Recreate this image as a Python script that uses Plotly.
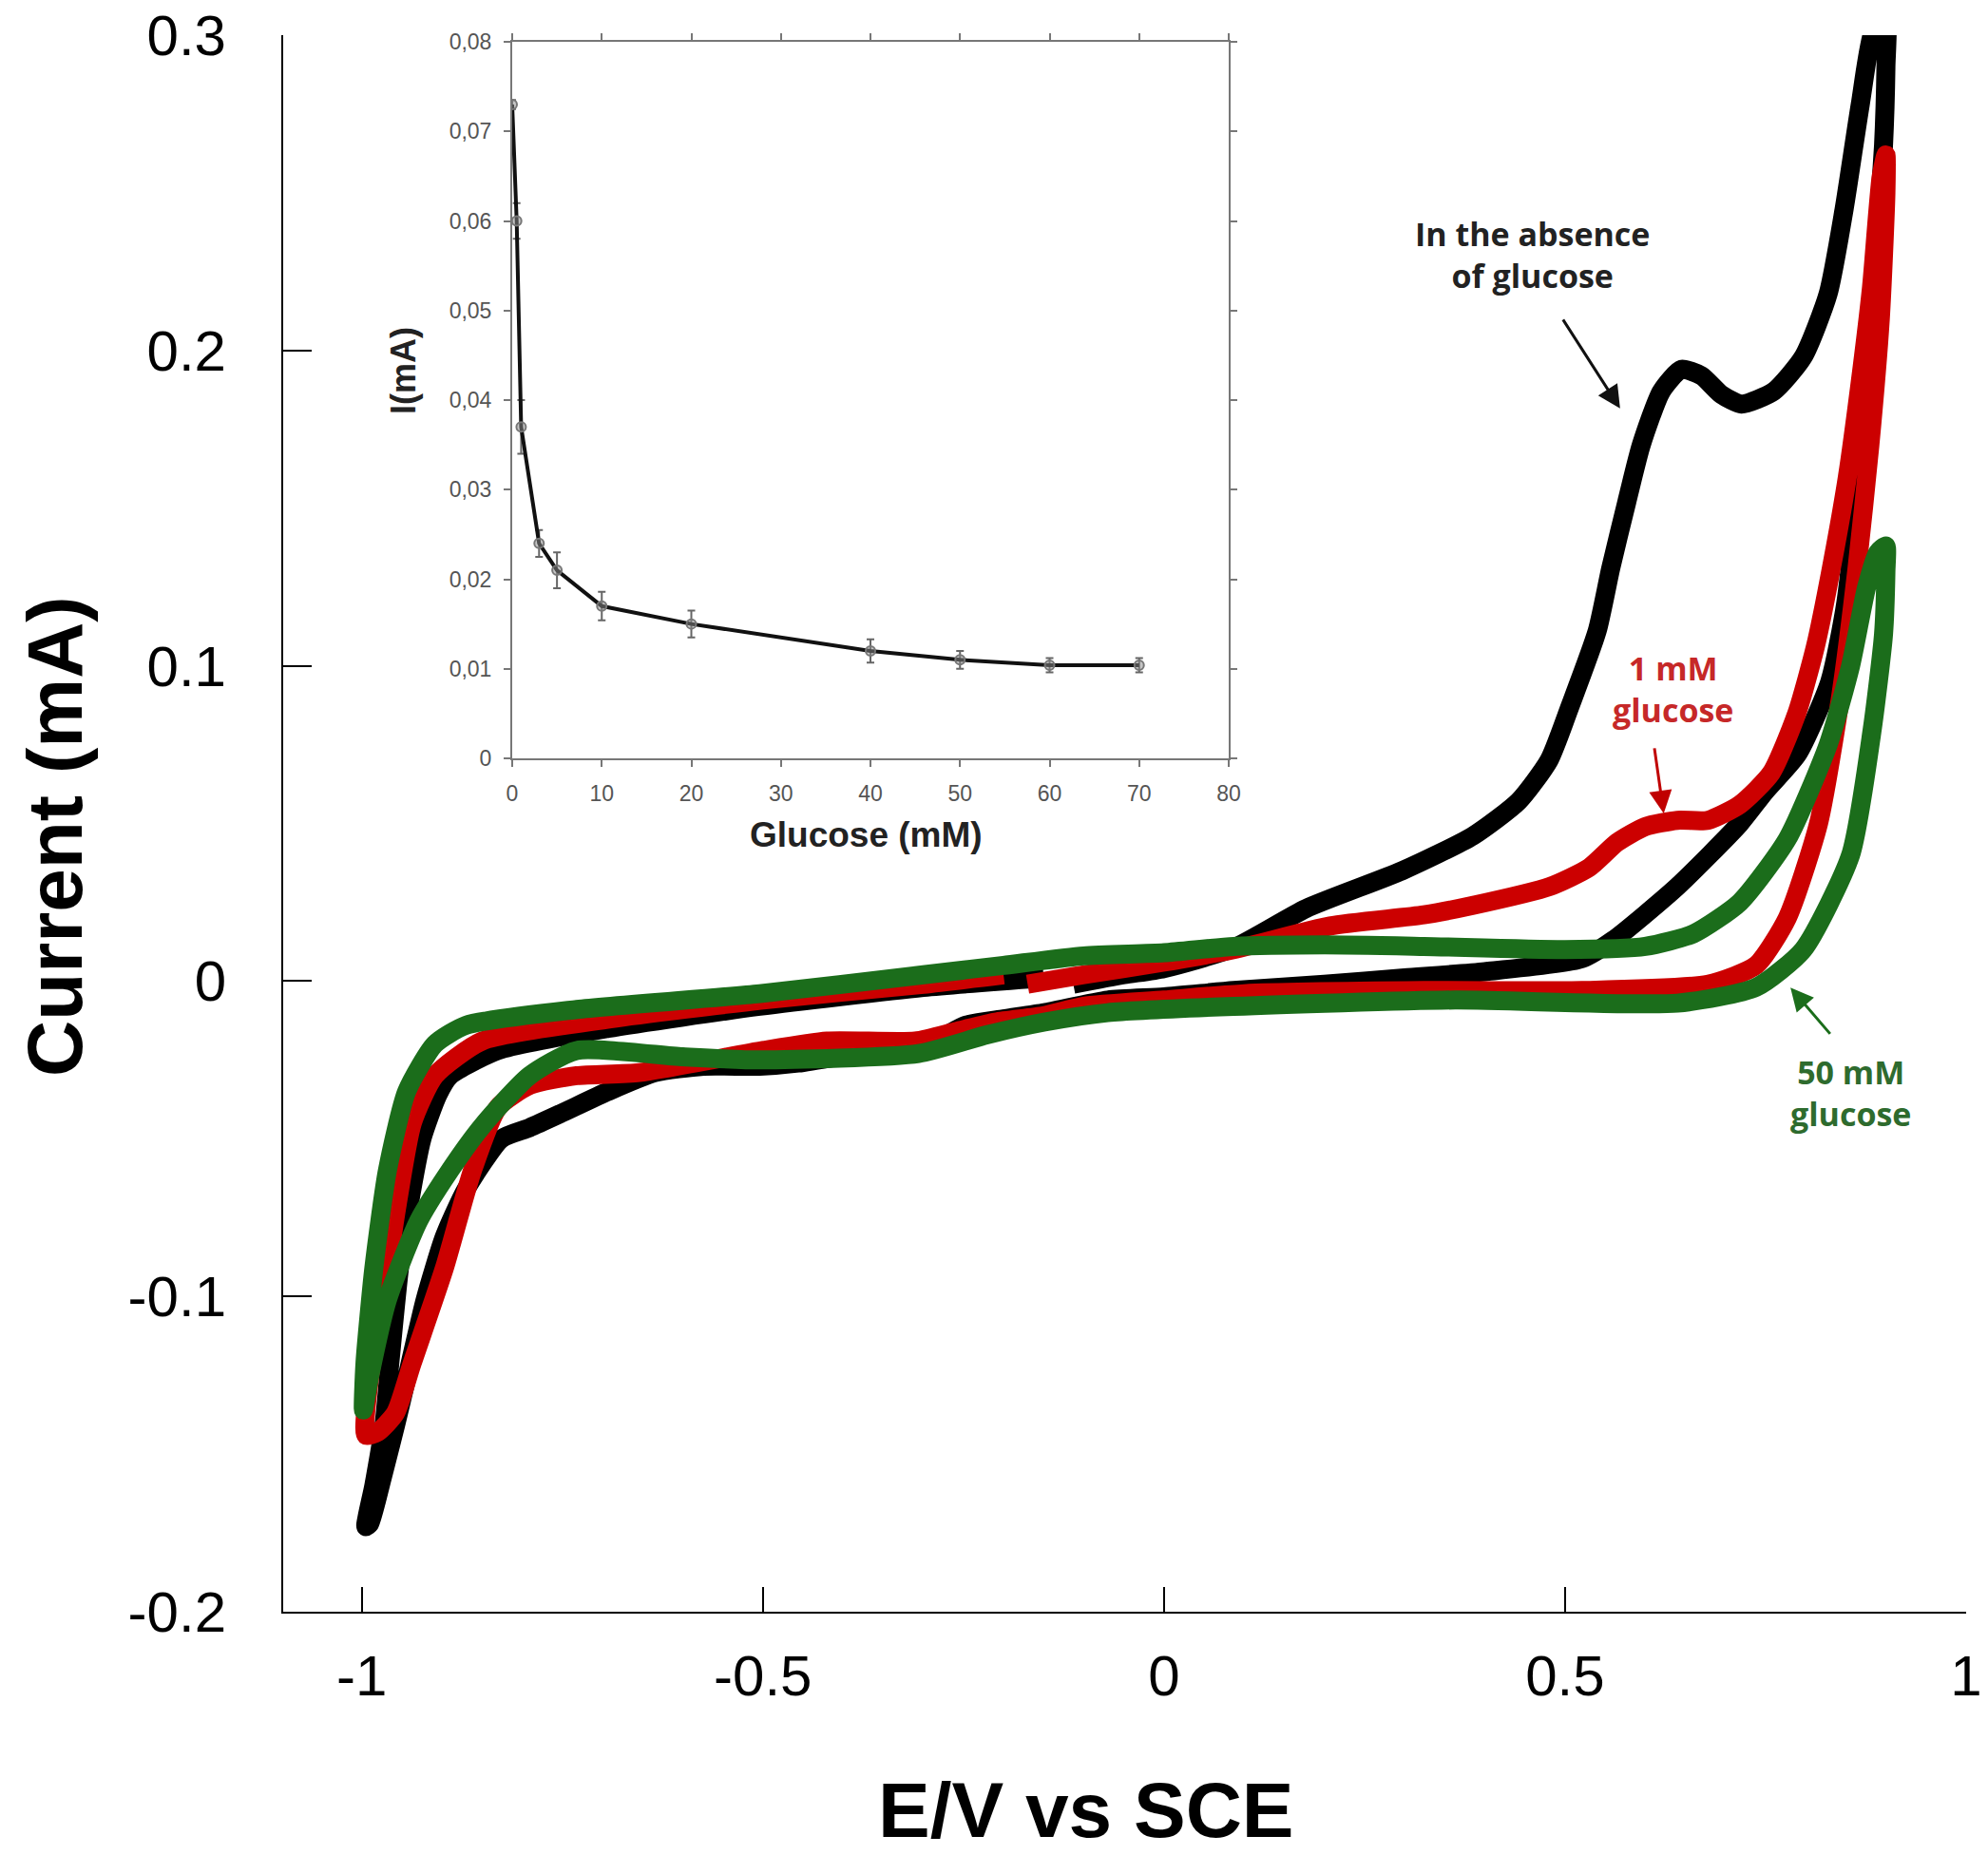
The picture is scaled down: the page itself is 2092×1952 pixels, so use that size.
import plotly.graph_objects as go

# cyclic voltammograms (E / V vs SCE, I / mA)
black_v = [-0.113, -0.05, 0.0, 0.087, 0.177, 0.297, 0.385, 0.442, 0.48, 0.506, 0.54, 0.557, 0.577, 0.595,
           0.62, 0.645, 0.67, 0.695, 0.72, 0.76, 0.797, 0.828, 0.848, 0.868, 0.885, 0.9,
           0.9, 0.897, 0.885, 0.87, 0.85, 0.83, 0.79, 0.749, 0.718, 0.64, 0.56, 0.52, 0.4, 0.3, 0.2, 0.087,
           0.0, -0.07, -0.149, -0.2, -0.247, -0.287, -0.385, -0.456, -0.504, -0.574, -0.634, -0.693, -0.752,
           -0.791, -0.826, -0.87, -0.897, -0.921, -0.944, -0.958, -0.975, -0.99,
           -0.995, -0.985, -0.972, -0.965, -0.953, -0.941, -0.925, -0.905, -0.89, -0.83, -0.693, -0.504, -0.3, -0.15]
black_i = [-0.001, 0.002, 0.004, 0.0105, 0.023, 0.035, 0.046, 0.057, 0.07, 0.087, 0.111, 0.131, 0.152, 0.17,
           0.187, 0.194, 0.192, 0.186, 0.183, 0.187, 0.198, 0.218, 0.245, 0.278, 0.302, 0.305,
           0.29, 0.265, 0.22, 0.17, 0.12, 0.095, 0.072, 0.060, 0.050, 0.030, 0.013, 0.007, 0.003, 0.001, -0.001, -0.003,
           -0.005, -0.006, -0.010, -0.012, -0.014, -0.019, -0.023, -0.026, -0.027, -0.027, -0.029, -0.035, -0.042,
           -0.0465, -0.050, -0.066, -0.081, -0.101, -0.126, -0.141, -0.158, -0.172,
           -0.173, -0.16, -0.14, -0.121, -0.091, -0.071, -0.05, -0.036, -0.030, -0.022, -0.015, -0.008, -0.002, 0.001]

red_v = [-0.17, -0.1, 0.0, 0.087, 0.207, 0.324, 0.385, 0.481, 0.53, 0.565, 0.60, 0.64, 0.678, 0.718, 0.757,
         0.789, 0.812, 0.832, 0.852, 0.868, 0.882, 0.894, 0.9,
         0.9, 0.893, 0.88, 0.864, 0.844, 0.816, 0.777, 0.738, 0.678, 0.521, 0.324, 0.1, 0.0, -0.1, -0.15,
         -0.21, -0.26, -0.31, -0.42, -0.5, -0.654, -0.732, -0.79, -0.83, -0.862, -0.897, -0.937, -0.958, -0.98, -0.995,
         -0.99, -0.98, -0.968, -0.956, -0.937, -0.909, -0.85, -0.69, -0.5, -0.3, -0.2]
red_i = [-0.001, 0.002, 0.006, 0.010, 0.0175, 0.021, 0.024, 0.030, 0.036, 0.044, 0.049, 0.051, 0.051, 0.056, 0.066,
         0.085, 0.106, 0.131, 0.16, 0.19, 0.22, 0.255, 0.262,
         0.25, 0.21, 0.17, 0.131, 0.091, 0.050, 0.020, 0.005, -0.001, -0.003, -0.003, -0.004, -0.006, -0.008, -0.011,
         -0.013, -0.016, -0.019, -0.019, -0.022, -0.029, -0.030, -0.033, -0.040, -0.060, -0.091, -0.121, -0.137, -0.143, -0.144,
         -0.125, -0.111, -0.091, -0.071, -0.045, -0.030, -0.019, -0.012, -0.006, -0.001, 0.002]

green_v = [-0.2, -0.1, 0.0, 0.087, 0.2, 0.324, 0.5, 0.6, 0.66, 0.718, 0.777, 0.828, 0.856, 0.876, 0.89, 0.9,
           0.9, 0.897, 0.883, 0.856, 0.797, 0.738, 0.64, 0.363, 0.087, -0.07, -0.149, -0.22, -0.306, -0.504,
           -0.6, -0.732, -0.791, -0.85, -0.89, -0.929, -0.968, -0.99, -0.998,
           -0.996, -0.985, -0.968, -0.944, -0.909, -0.87, -0.732, -0.504, -0.3, -0.2]
green_i = [0.005, 0.008, 0.009, 0.011, 0.0115, 0.011, 0.010, 0.011, 0.015, 0.025, 0.045, 0.075, 0.10, 0.125, 0.136, 0.138,
           0.13, 0.11, 0.080, 0.040, 0.010, -0.002, -0.007, -0.006, -0.008, -0.010, -0.013, -0.017, -0.023, -0.025,
           -0.024, -0.022, -0.030, -0.046, -0.060, -0.076, -0.101, -0.125, -0.136,
           -0.121, -0.091, -0.060, -0.035, -0.020, -0.014, -0.009, -0.004, 0.002, 0.005]

# inset: peak current vs glucose concentration
glucose_mm = [0, 0.5, 1, 3, 5, 10, 20, 40, 50, 60, 70]
peak_ma = [0.073, 0.060, 0.037, 0.024, 0.021, 0.017, 0.015, 0.012, 0.011, 0.0104, 0.0104]
peak_err = [0.0005, 0.002, 0.003, 0.0015, 0.002, 0.0016, 0.0015, 0.0013, 0.001, 0.0008, 0.0008]

main_ticks = [-1, -0.5, 0, 0.5, 1]
main_ticktext = ["-1", "-0.5", "0", "0.5", "1"]
cur_ticks = [-0.2, -0.1, 0, 0.1, 0.2, 0.3]
cur_ticktext = ["-0.2", "-0.1", "0", "0.1", "0.2", "0.3"]
inset_xticks = [0, 10, 20, 30, 40, 50, 60, 70, 80]
inset_yticks = [0, 0.01, 0.02, 0.03, 0.04, 0.05, 0.06, 0.07, 0.08]
inset_yticktext = ["0", "0,01", "0,02", "0,03", "0,04", "0,05", "0,06", "0,07", "0,08"]

# the page adds an 8px body margin, so the figure is drawn 8px smaller and shifted
OFF = 8
W, H = 2092 - OFF, 1952 - OFF
L, R, T, B = 298 - OFF, 2069 - OFF, 37 - OFF, 1696 - OFF  # plot area in pixels


def px(x):
    return (x - OFF - L) / (R - L)


def py(y):
    return (B - (y - OFF)) / (B - T)


fig = go.Figure()

line_style = dict(width=20, shape="spline", smoothing=0.6)
fig.add_trace(go.Scatter(x=black_v, y=black_i, mode="lines", line=dict(color="#000000", **line_style)))
fig.add_trace(go.Scatter(x=red_v, y=red_i, mode="lines", line=dict(color="#cc0000", **line_style)))
fig.add_trace(go.Scatter(x=green_v, y=green_i, mode="lines", line=dict(color="#1b6d1b", **line_style)))

fig.add_trace(go.Scatter(
    x=glucose_mm, y=peak_ma, mode="lines+markers", xaxis="x2", yaxis="y2",
    line=dict(color="#111111", width=4),
    marker=dict(size=10, color="rgba(140,140,140,0.5)", line=dict(color="#777777", width=2)),
    error_y=dict(type="data", array=peak_err, color="#666666", thickness=2, width=4),
))

tick_font = dict(family="Liberation Sans, Arial", size=60, color="#000000")
inset_tick_font = dict(family="Liberation Sans, Arial", size=23, color="#555555")
fig.update_layout(
    width=W, height=H,
    margin=dict(l=L, r=W - R, t=T, b=H - B, autoexpand=False),
    plot_bgcolor="white", paper_bgcolor="white",
    showlegend=False,
    xaxis=dict(range=[-1.098, 1.0], showgrid=False, zeroline=False, showline=True, automargin=False,
               linecolor="#000000", linewidth=2, ticks="inside", ticklen=26, tickwidth=2,
               tickcolor="#000000", tickvals=main_ticks, ticktext=main_ticktext,
               tickfont=tick_font, ticklabelstandoff=14, ticklabeloverflow="allow"),
    yaxis=dict(range=[-0.2, 0.3], showgrid=False, zeroline=False, showline=True, automargin=False,
               linecolor="#000000", linewidth=2, ticks="inside", ticklen=30, tickwidth=2,
               tickcolor="#000000", tickvals=cur_ticks, ticktext=cur_ticktext,
               tickfont=tick_font, ticklabelstandoff=46, ticklabeloverflow="allow"),
    xaxis2=dict(domain=[px(539), px(1293)], anchor="y2", range=[0, 80], showgrid=False, zeroline=False,
                showline=True, mirror="ticks", linecolor="#777777", linewidth=2, ticks="outside",
                ticklen=7, tickwidth=2, tickcolor="#777777", tickvals=inset_xticks, automargin=False,
                tickfont=inset_tick_font, ticklabelstandoff=8),
    yaxis2=dict(domain=[py(798), py(44)], anchor="x2", range=[0, 0.08], showgrid=False, zeroline=False,
                showline=True, mirror="ticks", linecolor="#777777", linewidth=2, ticks="outside",
                ticklen=7, tickwidth=2, tickcolor="#777777", tickvals=inset_yticks, automargin=False,
                ticktext=inset_yticktext, tickfont=inset_tick_font, ticklabelstandoff=8),
)

title_font = dict(family="Liberation Sans, Arial", size=82, color="#000000")
label_font = dict(family="Open Sans", size=34)
annotations = [
    dict(text="<b>Current (mA)</b>", x=px(57), y=py(880), textangle=-90, font=title_font),
    dict(text="<b>E/V vs SCE</b>", x=px(1143), y=py(1904), font=title_font),
    dict(text="<b>I(mA)</b>", x=px(424), y=py(390), textangle=-90,
         font=dict(family="Liberation Sans, Arial", size=36, color="#222222")),
    dict(text="<b>Glucose (mM)</b>", x=px(911), y=py(878),
         font=dict(family="Liberation Sans, Arial", size=37, color="#222222")),
    dict(text="<b>In the absence<br>of glucose</b>", x=px(1612), y=py(268),
         font=dict(color="#222222", **label_font)),
    dict(text="<b>1 mM<br>glucose</b>", x=px(1760), y=py(725),
         font=dict(color="#c62828", **label_font)),
    dict(text="<b>50 mM<br>glucose</b>", x=px(1947), y=py(1150),
         font=dict(color="#2e6b2e", **label_font)),
]
for a in annotations:
    fig.add_annotation(xref="paper", yref="paper", showarrow=False, xanchor="center", yanchor="middle", **a)

# arrows pointing at the curves
arrows = [
    dict(x=0.5686, y=0.1816, ax=-61, ay=-95, arrowcolor="#111111"),
    dict(x=0.623, y=0.0532, ax=-10, ay=-70, arrowcolor="#c00000"),
    dict(x=0.781, y=-0.0021, ax=43, ay=50, arrowcolor="#1b6d1b"),
]
for a in arrows:
    fig.add_annotation(xref="x", yref="y", text="", showarrow=True, arrowhead=2,
                       arrowsize=1.6, arrowwidth=3, **a)

fig.write_html("out.html")
